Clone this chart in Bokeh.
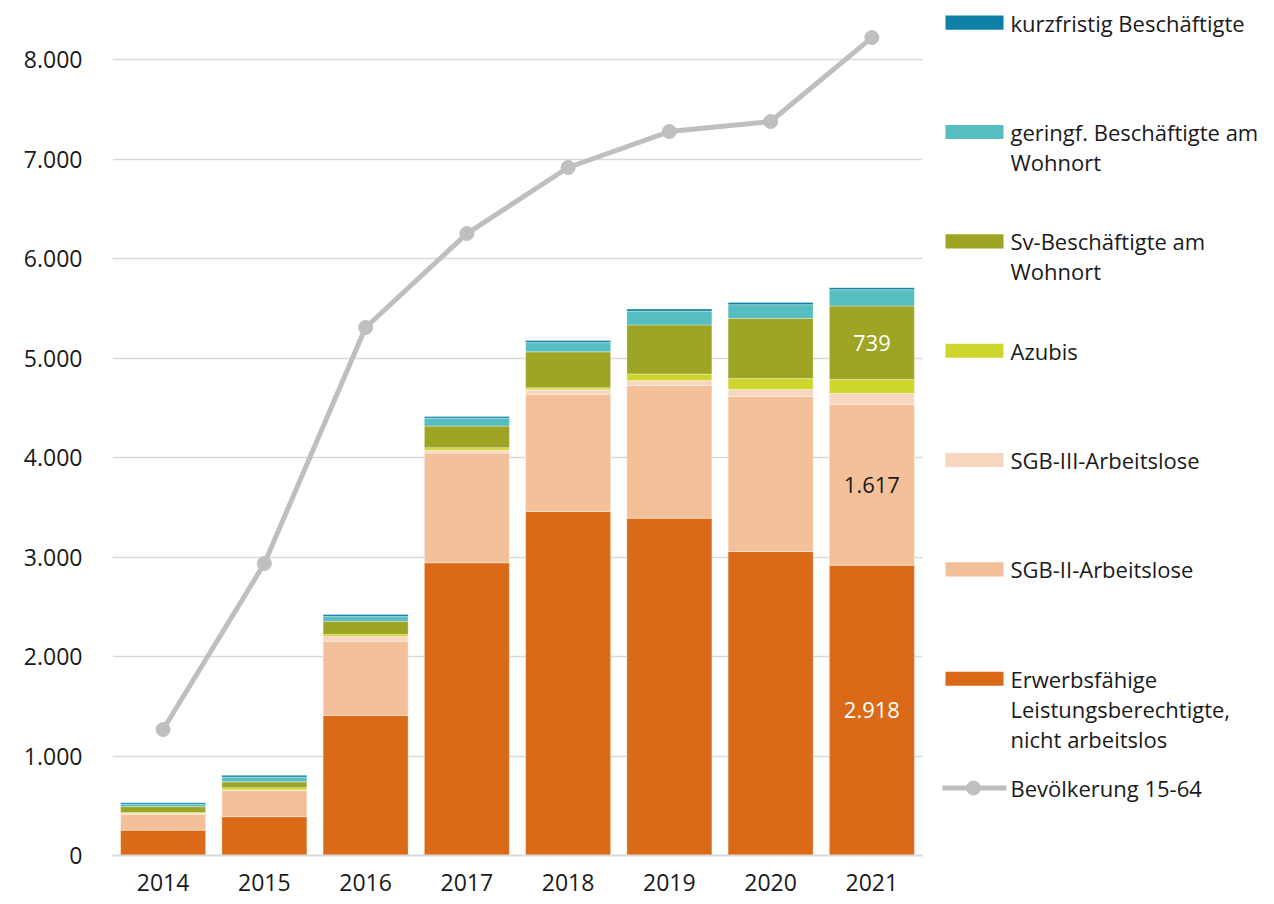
from bokeh.plotting import figure
from bokeh.layouts import row
from bokeh.models import ColumnDataSource, FactorRange, Range1d, FixedTicker
from bokeh.core.properties import value
from bokeh.embed import file_html
from bokeh.resources import INLINE

# ---------------- data ----------------
years = ["2014", "2015", "2016", "2017", "2018", "2019", "2020", "2021"]

elb_nicht_arbeitslos = [255, 390, 1407, 2942, 3457, 3390, 3055, 2918]
sgb2_arbeitslose = [160, 263, 747, 1103, 1180, 1333, 1558, 1617]
sgb3_arbeitslose = [8, 5, 47, 27, 43, 50, 70, 110]
azubis = [8, 22, 20, 27, 20, 67, 110, 140]
sv_beschaeftigte = [60, 60, 133, 217, 362, 493, 606, 739]
geringf_beschaeftigte = [25, 48, 47, 80, 93, 137, 137, 163]
kurzfristig_beschaeftigte = [15, 18, 20, 17, 20, 23, 23, 20]

bevoelkerung_15_64 = [1266, 2935, 5307, 6251, 6915, 7276, 7377, 8221]

series_keys = ["elb", "sgb2", "sgb3", "azubis", "sv", "geringf", "kurz"]
series_values = [elb_nicht_arbeitslos, sgb2_arbeitslose, sgb3_arbeitslose, azubis,
                 sv_beschaeftigte, geringf_beschaeftigte, kurzfristig_beschaeftigte]
series_names = ["Erwerbsfähige\nLeistungsberechtigte,\nnicht arbeitslos",
                "SGB-II-Arbeitslose", "SGB-III-Arbeitslose", "Azubis",
                "Sv-Beschäftigte am\nWohnort", "geringf. Beschäftigte am\nWohnort",
                "kurzfristig Beschäftigte"]
series_colors = ["#DA6A18", "#F3C09A", "#F8D6BF", "#CED62E", "#9EA423", "#56BDC1", "#0E80A7"]
line_name = "Bevölkerung 15-64"
line_color = "#BFBFBF"

y_ticks = [0, 1000, 2000, 3000, 4000, 5000, 6000, 7000, 8000]
y_tick_labels = ["0", "1.000", "2.000", "3.000", "4.000", "5.000", "6.000", "7.000", "8.000"]

# data labels shown for the last year: (series index, text colour)
label_specs = [(0, "white"), (1, "#1a1a1a"), (4, "white")]

FONT = "Open Sans"
FS = "23px"
FS_LEG = "22px"
FS_LBL = "22px"

# ---------------- main figure ----------------
data = {"years": years}
for k, v in zip(series_keys, series_values):
    data[k] = v
source = ColumnDataSource(data)

p = figure(x_range=FactorRange(*years), y_range=Range1d(0, 8513),
           width=933, height=900, output_backend="svg", toolbar_location=None,
           min_border_left=112, min_border_right=11, min_border_top=8, min_border_bottom=45)

p.vbar_stack(series_keys, x="years", width=0.84, source=source, color=series_colors,
             line_color="white", line_alpha=0.35, line_width=1)

p.line(years, bevoelkerung_15_64, line_color=line_color, line_width=5)
p.scatter(years, bevoelkerung_15_64, size=14, fill_color=line_color, line_color=line_color)

# data labels at segment centres (last year)
last = len(years) - 1
lx, ly, lt, lc = [], [], [], []
for idx, col in label_specs:
    base = sum(series_values[j][last] for j in range(idx))
    v = series_values[idx][last]
    lx.append(years[last])
    ly.append(base + v / 2)
    lt.append(f"{v:,}".replace(",", "."))
    lc.append(col)
p.text(x=lx, y=ly, text=lt, text_color=lc, text_align="center", text_baseline="middle",
       text_font=value(FONT), text_font_size=FS_LBL)

p.outline_line_color = None
p.xgrid.grid_line_color = None
p.ygrid.grid_line_color = "#D9D9D9"
p.ygrid.grid_line_width = 1.5
p.ygrid.ticker = FixedTicker(ticks=y_ticks)

p.yaxis.ticker = FixedTicker(ticks=y_ticks)
p.yaxis.major_label_overrides = {t: s for t, s in zip(y_ticks, y_tick_labels)}
p.yaxis.axis_line_color = None
p.yaxis.major_tick_line_color = None
p.yaxis.minor_tick_line_color = None
p.yaxis.major_label_standoff = 24
p.yaxis.major_label_text_font = FONT
p.yaxis.major_label_text_font_size = FS
p.yaxis.major_label_text_color = "#1a1a1a"

p.xaxis.axis_line_color = "#D9D9D9"
p.xaxis.axis_line_width = 2
p.xaxis.major_tick_line_color = None
p.xaxis.minor_tick_line_color = None
p.xaxis.major_label_standoff = 12
p.xaxis.major_label_text_font = FONT
p.xaxis.major_label_text_font_size = FS
p.xaxis.major_label_text_color = "#1a1a1a"

# ---------------- legend panel ----------------
LW, LH = 340, 900
leg = figure(width=LW, height=LH, x_range=Range1d(0, LW), y_range=Range1d(LH, 0),
             output_backend="svg", toolbar_location=None,
             min_border_left=0, min_border_right=0, min_border_top=0, min_border_bottom=0)
leg.axis.visible = False
leg.grid.visible = False
leg.outline_line_color = None

item_names = list(reversed(series_names)) + [line_name]
item_colors = list(reversed(series_colors))
start_y, pitch, line_h = 15, 116.2, 32
tx, ty, tt = [], [], []
rx, ry, rc = [], [], []
for i, name in enumerate(item_names):
    cy = start_y + i * pitch
    for j, ln in enumerate(name.split("\n")):
        tx.append(77)
        ty.append(cy + j * line_h)
        tt.append(ln)
    if i < len(item_colors):
        rx.append(41)
        ry.append(cy)
        rc.append(item_colors[i])
leg.rect(x=rx, y=ry, width=58, height=15, fill_color=rc, line_color=None)
ly_line = start_y + len(item_colors) * pitch
leg.line([9, 73], [ly_line, ly_line], line_color=line_color, line_width=5)
leg.scatter([40], [ly_line], size=14, fill_color=line_color, line_color=line_color)
leg.text(x=tx, y=ty, text=tt, text_baseline="middle", text_align="left",
         text_font=value(FONT), text_font_size=FS_LEG, text_color="#1a1a1a")

layout = row(p, leg, spacing=0)
open("out.html", "w").write(file_html(layout, INLINE))
